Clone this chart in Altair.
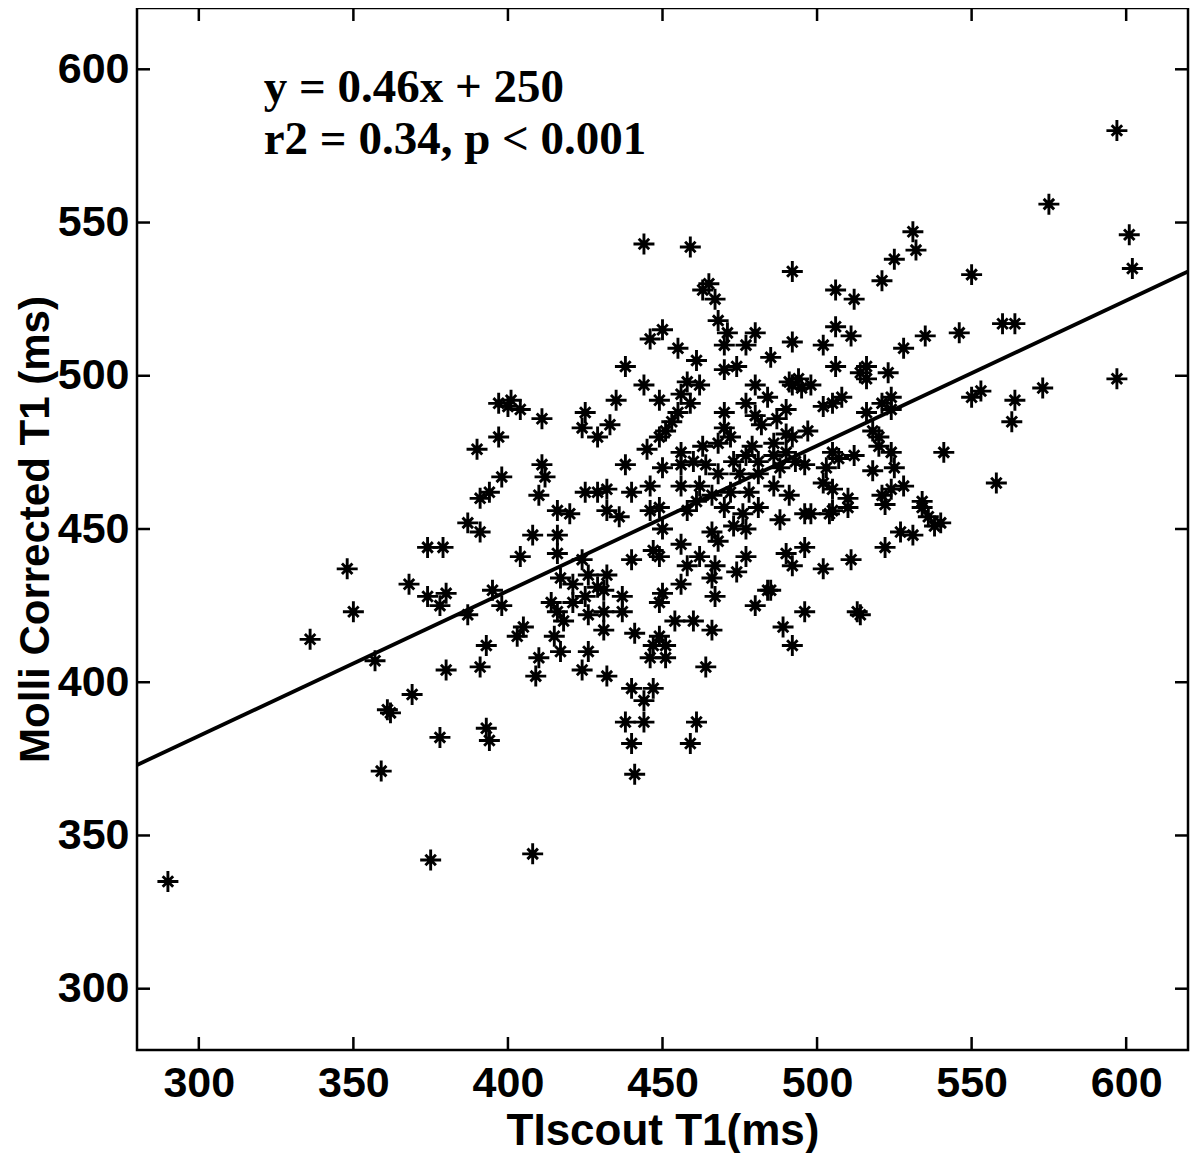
import altair as alt
import pandas as pd

# ---- data (TIscout T1 vs MOLLI corrected T1, ms) ----
tiscout = [290, 336, 348, 350, 357, 359, 361, 362, 368, 369, 374, 374, 375, 379, 378, 380, 378, 380,
           397, 401, 400, 404, 411, 425, 424, 429, 397, 390, 411, 412, 398, 394, 391, 410, 425, 429,
           387, 391, 408, 416, 416, 420, 404, 395, 398, 387, 405, 403, 393, 391, 410, 409, 415, 417,
           424, 426, 416, 424, 417, 421, 426, 414, 416, 418, 421, 426, 425, 429, 393, 394, 408, 444,
           438, 444, 440, 441, 461, 459,
           444, 459, 465, 463, 467, 492, 506, 512, 521, 525, 531, 532, 550,
           597, 575, 601, 602, 560, 564, 597, 573, 564, 563, 558, 553, 550,
           506, 511, 502, 528, 535, 546, 506, 514, 516, 516, 523, 498, 495, 494, 502, 505, 508, 516,
           521, 524, 524, 497, 518, 520, 520, 524, 505, 507, 512, 541, 503, 496, 518, 525, 502, 505,
           528, 524, 521, 534, 510,
           496, 498, 504, 505, 510, 522, 534, 536, 540, 538, 527, 531, 496, 511, 502, 522, 496, 513,
           514, 492,
           468, 446, 450, 455, 438, 461, 470, 471, 470, 474, 477, 480, 485, 492, 444, 435, 449, 433,
           445, 438, 458, 462, 456, 459, 455, 453, 451, 449, 470, 470, 472, 468, 480, 477, 484, 491,
           492, 490, 480, 487, 482, 490, 486, 492, 479, 463, 456, 460, 456, 464, 450, 468, 473, 477,
           481, 486, 490, 475, 481, 488, 493, 432, 440, 446, 456, 462, 466, 472, 478, 486, 491, 461,
           432, 436, 446, 449, 458, 470, 476, 481, 488, 473, 477, 466, 468, 450, 456, 447, 449, 440,
           462, 458, 467, 466, 474, 477, 456, 432, 431, 437, 450, 449, 467, 484, 485, 480, 490, 492,
           437, 431, 431, 441, 454, 460, 466, 449, 451, 447, 446, 451, 489, 464, 432, 440, 447]
molli = [335, 414, 437, 423, 407, 371, 391, 390, 432, 396, 444, 428, 342, 444, 425, 429, 382, 404,
         491, 492, 490, 489, 486, 488, 483, 480, 480, 476, 471, 467, 467, 462, 460, 461, 462, 462,
         452, 449, 448, 448, 456, 455, 441, 430, 425, 422, 418, 415, 412, 405, 408, 402, 415, 410,
         404, 410, 442, 440, 434, 432, 435, 426, 423, 420, 426, 422, 428, 431, 385, 381, 344, 394,
         387, 387, 380, 370, 387, 380,
         543, 542, 530, 528, 525, 534, 528, 525, 531, 538, 547, 541, 533,
         580, 556, 546, 535, 517, 517, 499, 496, 492, 485, 465, 495, 493,
         516, 513, 510, 509, 513, 514, 503, 501, 499, 503, 501, 497, 496, 499, 490, 491, 493, 488,
         491, 493, 489, 482, 482, 480, 477, 475, 475, 473, 474, 475, 470, 471, 469, 470, 465, 463,
         464, 463, 461, 459, 460,
         455, 455, 455, 456, 457, 458, 457, 454, 452, 451, 449, 448, 444, 440, 437, 444, 423, 423,
         422, 412,
         518, 512, 515, 509, 503, 505, 510, 514, 502, 503, 510, 514, 506, 511, 497, 492, 492, 484,
         476, 471, 498, 497, 494, 491, 488, 485, 482, 480, 488, 483, 480, 478, 497, 491, 493, 498,
         497, 489, 487, 486, 484, 481, 478, 480, 477, 477, 475, 472, 471, 471, 470, 468, 472, 474,
         472, 474, 475, 468, 468, 470, 472, 463, 462, 464, 464, 464, 461, 462, 462, 464, 461, 459,
         456, 454, 456, 457, 456, 457, 455, 457, 453, 451, 450, 449, 446, 450, 445, 443, 441, 440,
         441, 438, 438, 434, 436, 441, 432, 435, 430, 428, 429, 426, 428, 430, 430, 425, 442, 438,
         423, 423, 417, 416, 420, 420, 417, 415, 412, 412, 408, 408, 418, 405, 402, 398, 398]

fit_x = [280, 620]
fit_y = [373, 534]

tick_values = [300, 350, 400, 450, 500, 550, 600]

annot_text = ["y = 0.46x + 250", "r2 = 0.34, p < 0.001"]
annot_x = [321, 321]
annot_y = [594, 577]

# ---- build tables ----
pts = pd.DataFrame({"x": tiscout, "y": molli})
fit = pd.DataFrame({"x": fit_x, "y": fit_y})
ticks = pd.DataFrame({"x": tick_values, "y": tick_values})
ann = pd.DataFrame({"x": annot_x, "y": annot_y, "t": annot_text})

W, H = 1051, 1042
TL = 13  # tick length (px)
xs = alt.Scale(domain=[280, 620], nice=False, zero=False)
ys = alt.Scale(domain=[280, 620], nice=False, zero=False)

STAR = "M-1,0L1,0M0,-1L0,1M-0.5,-0.5L0.5,0.5M-0.5,0.5L0.5,-0.5"

x_axis = alt.Axis(values=tick_values, title="TIscout T1(ms)", labelPadding=12, titlePadding=4,
                  titleFontSize=44)
y_axis = alt.Axis(values=tick_values, title="Molli Corrected T1 (ms)", labelPadding=8, titlePadding=0,
                  titleFontSize=42)

X = alt.X("x:Q", scale=xs, axis=x_axis)
Y = alt.Y("y:Q", scale=ys, axis=y_axis)

points = alt.Chart(pts).mark_point(
    shape=STAR, size=440, filled=False, stroke="black", strokeWidth=2.9, opacity=1
).encode(x=X, y=Y)

line = alt.Chart(fit).mark_line(color="black", strokeWidth=3.8).encode(x=X, y=Y)

text = alt.Chart(ann).mark_text(
    align="left", baseline="middle", font="Liberation Serif", fontWeight="bold",
    fontSize=47, color="black"
).encode(x=X, y=Y, text="t:N")

tick_style = dict(color="black", strokeWidth=2.5)
left_ticks = alt.Chart(ticks).mark_rule(**tick_style).encode(
    y=Y, x=alt.value(0), x2=alt.value(TL))
right_ticks = alt.Chart(ticks).mark_rule(**tick_style).encode(
    y=Y, x=alt.value(W - TL), x2=alt.value(W))
bottom_ticks = alt.Chart(ticks).mark_rule(**tick_style).encode(
    x=X, y=alt.value(H), y2=alt.value(H - TL))
top_ticks = alt.Chart(ticks).mark_rule(**tick_style).encode(
    x=X, y=alt.value(0), y2=alt.value(TL))

chart = alt.layer(
    points, line, text, left_ticks, right_ticks, bottom_ticks, top_ticks
).properties(
    width=W, height=H,
    padding={"left": 129, "top": 0, "right": 4, "bottom": 103},
    autosize=alt.AutoSizeParams(type="none"),
    background="white",
).configure_view(
    stroke="black", strokeWidth=2.5
).configure_axis(
    grid=False, domain=False, ticks=False, tickSize=0,
    labelFont="Liberation Sans", labelFontWeight="bold", labelFontSize=43, labelColor="black",
    titleFont="Liberation Sans", titleFontWeight="bold", titleColor="black",
)

chart.save("out.html", embed_options={"renderer": "svg", "actions": False})
